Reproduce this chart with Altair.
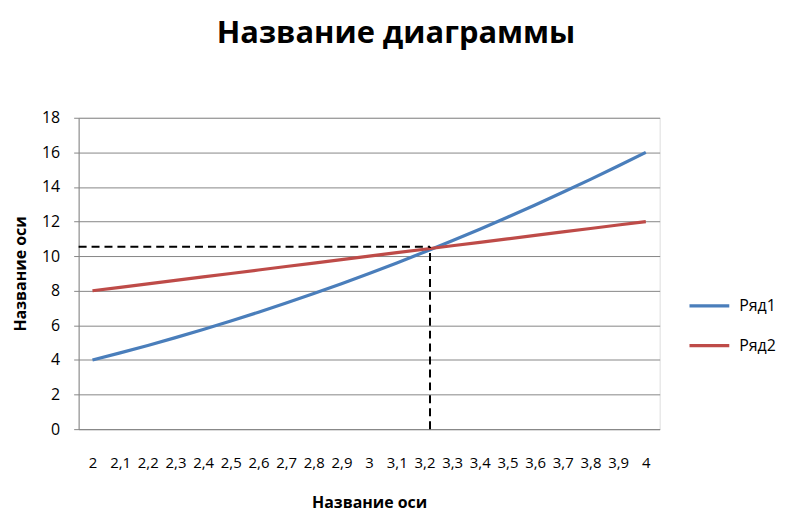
import altair as alt
import pandas as pd

# Data
categories = [2.0, 2.1, 2.2, 2.3, 2.4, 2.5, 2.6, 2.7, 2.8, 2.9, 3.0,
              3.1, 3.2, 3.3, 3.4, 3.5, 3.6, 3.7, 3.8, 3.9, 4.0]
series1 = [4.0, 4.41, 4.84, 5.29, 5.76, 6.25, 6.76, 7.29, 7.84, 8.41, 9.0,
           9.61, 10.24, 10.89, 11.56, 12.25, 12.96, 13.69, 14.44, 15.21, 16.0]
series2 = [8.0, 8.2, 8.4, 8.6, 8.8, 9.0, 9.2, 9.4, 9.6, 9.8, 10.0,
           10.2, 10.4, 10.6, 10.8, 11.0, 11.2, 11.4, 11.6, 11.8, 12.0]
y_ticks = [0, 2, 4, 6, 8, 10, 12, 14, 16, 18]
series_names = ["Ряд1", "Ряд2"]
series_colors = ["#4A7EBB", "#BE4B48"]

guide_x = [3.22]
guide_y = [10.54]
x_domain = [1.95, 4.05]
y_domain = [0, 18]

FONT = "Open Sans"

rows = []
for x, v in zip(categories, series1):
    rows.append({"x": x, "y": v, "s": series_names[0]})
for x, v in zip(categories, series2):
    rows.append({"x": x, "y": v, "s": series_names[1]})
df = pd.DataFrame(rows)

xscale = alt.Scale(domain=x_domain, nice=False, zero=False)
yscale = alt.Scale(domain=y_domain, nice=False)

xaxis = alt.Axis(title="Название оси", values=categories,
                 labelExpr="replace(format(datum.value, '.1~f'), '.', ',')",
                 labelOverlap=False, labelFlush=False, grid=False,
                 ticks=False, labelPadding=27, titlePadding=24,
                 domainColor="#868686", labelFontSize=15,
                 labelColor="#000000", titleFontSize=16,
                 titleFontWeight="bold", titleColor="#000000",
                 labelFont=FONT, titleFont=FONT)
yaxis = alt.Axis(title="Название оси", values=y_ticks, labelOverlap=False,
                 grid=True, gridColor="#868686", tickColor="#868686",
                 tickSize=5, labelPadding=14, domainColor="#868686",
                 labelFontSize=16, labelColor="#000000",
                 titleFontSize=16, titleFontWeight="bold",
                 titleColor="#000000", titlePadding=13,
                 labelFont=FONT, titleFont=FONT)

lines = alt.Chart(df).mark_line(strokeWidth=3.2).encode(
    x=alt.X("x:Q", scale=xscale, axis=xaxis),
    y=alt.Y("y:Q", scale=yscale, axis=yaxis),
    color=alt.Color("s:N", scale=alt.Scale(domain=series_names, range=series_colors),
                    legend=alt.Legend(title=None, orient="none", legendX=612,
                                      legendY=167, symbolType="stroke",
                                      symbolSize=1600, symbolStrokeWidth=3.2,
                                      labelFontSize=16, labelFont=FONT,
                                      labelColor="#000000", rowPadding=10,
                                      labelOffset=8)),
)

gdf = pd.DataFrame({"gx": guide_x, "gy": guide_y, "x0": [x_domain[0]], "y0": [0]})

hrule = alt.Chart(gdf).mark_rule(color="black", strokeWidth=2, strokeDash=[8, 5]).encode(
    x=alt.X("x0:Q", scale=xscale, axis=xaxis), x2="gx:Q",
    y=alt.Y("gy:Q", scale=yscale, axis=yaxis))
vrule = alt.Chart(gdf).mark_rule(color="black", strokeWidth=2, strokeDash=[8, 5]).encode(
    x=alt.X("gx:Q", scale=xscale, axis=xaxis),
    y=alt.Y("y0:Q", scale=yscale, axis=yaxis), y2="gy:Q")

chart = alt.layer(lines, hrule, vrule).properties(
    width=584, height=313,
    title=alt.TitleParams(text="Название диаграммы", fontSize=31, fontWeight="bold",
                          font=FONT, anchor="middle", dx=27, offset=60,
                          color="#000000"),
    autosize=alt.AutoSizeParams(type="none"),
    padding={"left": 71, "top": 109, "right": 125, "bottom": 92},
).configure_view(stroke=None).configure(background="white")

chart.save("out.html", embed_options={"renderer": "svg", "actions": False})
